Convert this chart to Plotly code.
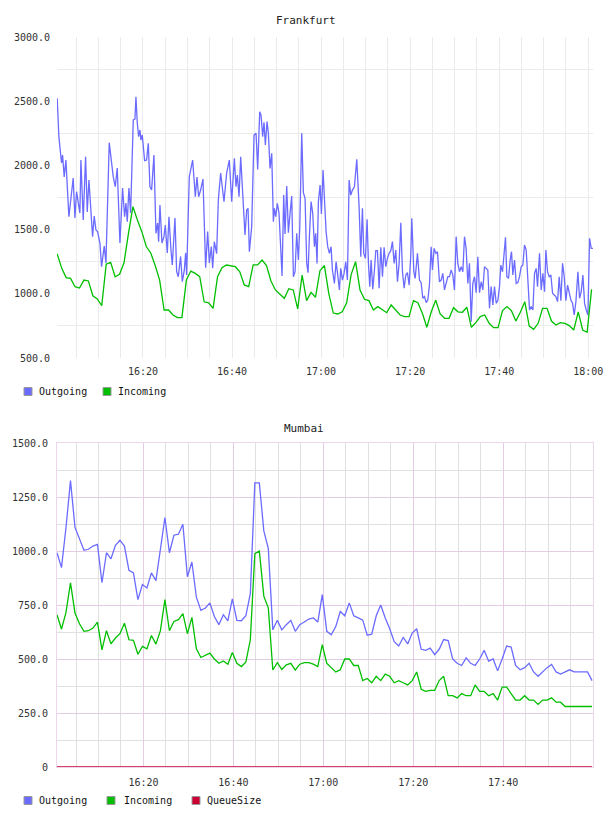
import plotly.graph_objects as go
from datetime import datetime, timedelta

BASE = datetime(2024, 1, 1, 16, 0, 0)

# ---------------- Frankfurt ----------------
fra_out_min = [
    0.75, 1.12, 1.72, 1.95, 2.32, 2.70, 3.37, 4.34, 4.72, 5.09, 5.84, 6.07, 6.59, 7.12, 7.49, 7.87,
    8.69, 9.06, 9.44, 9.81, 10.34, 10.71, 11.31, 11.69, 12.43, 13.33, 13.78, 14.23, 14.83, 15.43,
    15.88, 16.18, 16.48, 16.85, 17.23, 17.83, 18.20, 18.43, 18.73, 19.03, 19.33, 19.55, 19.85,
    20.37, 20.82, 21.20, 21.57, 21.95, 22.47, 22.92, 23.30, 23.52, 23.82, 24.27, 24.72, 25.02,
    25.47, 25.84, 26.29, 26.59, 27.19, 27.57, 27.94, 28.46, 28.84, 29.29, 29.59, 29.81, 30.41,
    31.16, 31.76, 32.13, 32.51, 32.96, 33.48, 34.08, 34.53, 34.91, 35.36, 35.66, 36.03, 36.55,
    36.93, 37.45, 38.20, 38.80, 39.40,
    39.93, 40.53, 40.90, 41.20, 41.58, 41.95, 42.40, 42.92, 43.30, 43.60, 43.90, 44.42, 44.95,
    45.40, 45.77, 46.22, 46.52, 46.89, 47.19, 47.49, 47.87, 48.17, 48.54, 48.92, 49.29, 49.52,
    49.82, 50.19, 50.56, 50.94, 51.24, 51.61, 51.91, 52.29, 52.66, 53.04, 53.41, 53.79, 54.16,
    54.53, 54.91, 55.21, 55.66, 56.03, 56.41, 56.78, 57.08, 57.38, 57.76, 58.13, 58.51, 58.80,
    59.10, 59.40, 59.78, 60.08, 60.45, 60.83, 61.13, 61.50, 61.88, 62.25, 62.55, 63.00, 63.37,
    63.75, 64.12, 64.42, 64.80, 65.17, 65.55, 65.92, 66.30, 66.67, 67.05, 67.49, 68.02, 68.54,
    68.92, 69.29, 69.59, 69.97, 70.34, 70.64, 70.94, 71.24, 71.61, 71.99, 72.29, 72.66, 73.04,
    73.41, 73.79, 74.16, 74.53, 74.91, 75.28, 75.66, 76.03, 76.41, 76.78, 77.16, 77.53, 77.91,
    78.28, 78.66, 79.03, 79.40, 79.78, 80.15, 80.38, 80.83, 81.13,
    81.65, 82.10, 82.47, 82.85, 83.22, 83.60, 83.97, 84.34, 84.72, 85.02, 85.39, 85.77, 86.14,
    86.59, 86.97, 87.34, 87.72, 88.09, 88.46, 88.84, 89.21, 89.59, 89.96, 90.34, 90.71, 91.09,
    91.46, 91.84, 92.21, 92.58, 92.96, 93.33, 93.71, 94.08, 94.46, 94.83, 95.21, 95.58, 95.96,
    96.33, 96.70, 97.08, 97.45, 97.83, 98.20, 98.58, 98.95, 99.33, 99.70, 100.07, 100.37, 100.75,
    101.12, 101.42, 101.72, 102.10, 102.47, 102.77, 103.07, 103.45, 103.82, 104.19, 104.57,
    104.94, 105.32, 105.69, 106.07, 106.44, 106.82, 107.19, 107.57, 107.94, 108.31, 108.61,
    109.06, 109.44, 109.81, 110.19, 110.49, 110.86, 111.24, 111.61, 111.99, 112.36, 112.73,
    113.11, 113.48, 113.86, 114.23, 114.61, 114.98, 115.36, 115.73, 116.10, 116.48, 116.85,
    117.23, 117.68, 118.05, 118.43, 118.80, 119.18, 119.55, 119.93, 120.30, 120.67, 121.05,
]
fra_out = [
    2523, 2224, 2019, 2081, 1910, 2042, 1600, 1902, 1590, 1795, 1629, 2042, 1575, 2068, 1637, 1886,
    1445, 1606, 1497, 1484, 1395, 1211, 1372, 1240, 2177, 1912, 1834, 1980, 1395, 1824,
    1600, 1707, 1562, 1824, 1629, 2354, 2360, 2535, 2330, 2224, 2276, 2198, 2237,
    2037, 2042, 2172, 1834, 1808, 2081, 1471, 1551, 1406, 1692, 1395, 1445, 1536,
    1318, 1600, 1343, 1224, 1590, 1172, 1133, 1291, 1094, 1185, 1318, 1146, 1912,
    2042, 1756, 1910, 1756, 1808, 1894, 1203, 1484, 1240, 1368, 1200, 1406, 1312,
    1730, 1941, 1717, 1941, 2042,
    1718, 2055, 1834, 1925, 1757, 2068, 1731, 1458, 1653, 1666, 1328, 1523, 2237,
    2250, 1969, 2418, 2392, 2224, 2335, 2159, 2341, 2250, 1977, 2094, 1562, 1666,
    1601, 1705, 1627, 1393, 1139, 1769, 1466, 1840, 1476, 1627, 1762, 1133, 1172,
    1471, 1263, 1510, 2250, 1788, 1743, 1237, 1165, 1445, 1718, 1627, 1367, 1471,
    1237, 1718, 1847, 1621, 1964, 1692, 1484, 1367, 1315, 1367, 1185, 1081, 1250,
    1146, 1030, 1198, 1107, 1159, 1250, 1107, 1886, 1769, 1808, 1834, 2047, 1679,
    1289, 1666, 1315, 1276, 1580, 1237, 1056, 1263, 1035, 1185, 1336, 1336, 1043,
    1362, 1133, 1362, 1211, 1276, 1315, 1336, 1406, 1237, 1341, 1094, 1237, 1554,
    1172, 1043, 1146, 1165, 1068, 1302, 1588, 1172, 1120,
    1315, 1107, 1087, 965, 978, 931, 952, 1068, 1367, 1185, 1354, 1315, 1328,
    1094, 1107, 1159, 1030, 1094, 1133, 1133, 1185, 1146, 1030, 1445, 1237, 1172,
    1211, 1172, 1445, 1354, 1081, 1237, 783, 1081, 1133, 1009, 1289, 1009, 1094,
    1030, 1211, 1198, 1185, 887, 1056, 913, 1056, 926, 947, 1056, 1224, 1172,
    1315, 1440, 1133, 1120, 1263, 1328, 1146, 1263, 1081, 1087, 1133,
    1211, 1224, 1380, 1341, 1133, 874, 900, 874, 1159, 1198, 1056,
    1315, 1030, 1159, 1017, 1341, 1172, 1133, 1146, 1004, 991, 978,
    939, 1133, 947, 1237, 1133, 947, 1068, 1004, 952, 926, 835,
    939, 1172, 965, 1017, 1146, 926, 874, 835, 1432, 1354, 1354,
]
fra_in_start_min = 0.75  # one sample per minute from here
fra_in = [
    1310, 1200, 1126, 1120, 1055, 1045, 1107, 1100, 985, 960, 907, 1230, 1245, 1133, 1152, 1242,
    1471, 1679, 1575, 1484, 1368, 1318, 1220, 1107, 874, 874, 835, 814, 814, 1107, 1177, 1159,
    1133, 938, 930, 886, 1133, 1203, 1224,
    1220, 1211, 1172, 1069, 1056, 1225, 1225, 1263, 1220, 1100, 1030, 1000, 965, 1040, 1030, 882,
    1146, 947, 1011, 973, 1180, 1220, 1000, 850, 843, 860, 930, 1150, 1250, 1030, 957, 947,
    874, 900, 874, 853, 913, 870, 835, 822, 822, 947,
    930, 848, 739, 860, 950, 843, 809, 809, 892, 860, 856, 895, 739, 775, 822, 835, 770, 736,
    736, 869, 900, 869, 788, 856, 939, 749, 723, 770, 887, 887, 788, 757, 775, 770, 752, 718,
    860, 718, 700, 1035,
]
fra_yticks = [500, 1000, 1500, 2000, 2500, 3000]
fra_yticktext = ["500.0", "1000.0", "1500.0", "2000.0", "2500.0", "3000.0"]

# ---------------- Mumbai ----------------
mum_start_min = 0.77  # one sample per minute from here
mum_out = [
    992, 923, 1109, 1326, 1109, 1054, 1003, 1008, 1023, 1031, 853, 992, 964, 1026, 1050, 1023,
    910, 899, 775, 845, 829, 899, 863, 1008, 1155, 992, 1073, 1078, 1124, 881, 949, 786,
    725, 736, 760, 697, 659, 705, 677, 778, 679, 677, 700, 803, 1315, 1315, 1093, 1011,
    635, 679, 635, 659, 679, 628, 659, 671, 685, 690, 671, 798, 628, 612,
    650, 720, 700, 760, 700, 690, 680, 610, 615, 700, 750, 690, 640, 580, 560, 600,
    570, 620, 640, 545, 540, 550, 520, 545, 590, 585, 500, 480, 470, 505, 480, 470,
    500, 540, 490, 500, 445, 500, 560, 555, 470, 450, 460, 480, 440, 420, 440, 460,
    475, 440, 430, 440, 450, 440, 440, 440, 440, 400,
]
mum_in = [
    705, 638, 716, 853, 713, 663, 628, 631, 643, 671, 542, 631, 570, 597, 617, 666,
    589, 586, 522, 558, 547, 609, 569, 631, 775, 631, 674, 682, 710, 617, 693, 547,
    507, 516, 527, 500, 480, 491, 476, 530, 480, 465, 485, 589, 988, 1000, 791, 736,
    449, 483, 452, 473, 480, 449, 476, 483, 483, 476, 465, 566, 480, 460,
    440, 450, 500, 500, 470, 470, 400, 410, 390, 420, 400, 430, 420, 390, 400, 390,
    380, 400, 440, 360, 350, 355, 355, 400, 420, 330, 330, 320, 340, 330, 330, 380,
    350, 350, 330, 340, 310, 370, 370, 340, 310, 310, 330, 310, 310, 290, 310, 310,
    320, 300, 300, 280, 280, 280, 280, 280, 280, 280,
]
mum_queue = [
    0, 0, 0, 0, 0, 0, 0, 0, 0, 0, 0, 0, 0, 0, 0, 0, 0, 0, 0, 0,
    0, 0, 0, 0, 0, 0, 0, 0, 0, 0, 0, 0, 0, 0, 0, 0, 0, 0, 0, 0,
    0, 0, 0, 0, 0, 0, 0, 0, 0, 0, 0, 0, 0, 0, 0, 0, 0, 0, 0, 0,
    0, 0, 0, 0, 0, 0, 0, 0, 0, 0, 0, 0, 0, 0, 0, 0, 0, 0, 0, 0,
    0, 0, 0, 0, 0, 0, 0, 0, 0, 0, 0, 0, 0, 0, 0, 0, 0, 0, 0, 0,
    0, 0, 0, 0, 0, 0, 0, 0, 0, 0, 0, 0, 0, 0, 0, 0, 0, 0, 0, 0,
]
mum_yticks = [0, 250, 500, 750, 1000, 1250, 1500]
mum_yticktext = ["0", "250.0", "500.0", "750.0", "1000.0", "1250.0", "1500.0"]

titles = ["Frankfurt", "Mumbai"]
series_names = ["Outgoing", "Incoming", "QueueSize"]
COL_OUT = "#6b6bff"
COL_IN = "#00bf00"
COL_Q = "#cc0033"

# ---------------- build ----------------
W, H = 608, 816


def fx(px):
    return px / W


def fy(py):
    return 1 - py / H


def t(m):
    return BASE + timedelta(minutes=m)


fra_out_x = [t(m) for m in fra_out_min]
fra_in_x = [t(fra_in_start_min + i) for i in range(len(fra_in))]
mum_x = [t(mum_start_min + i) for i in range(len(mum_out))]

fig = go.Figure()
fig.add_trace(go.Scatter(x=fra_out_x, y=fra_out, mode="lines", name=series_names[0],
                         line=dict(color=COL_OUT, width=1.3), xaxis="x", yaxis="y"))
fig.add_trace(go.Scatter(x=fra_in_x, y=fra_in, mode="lines", name=series_names[1],
                         line=dict(color=COL_IN, width=1.3), xaxis="x", yaxis="y"))
fig.add_trace(go.Scatter(x=mum_x, y=mum_out, mode="lines", name=series_names[0],
                         line=dict(color=COL_OUT, width=1.3), xaxis="x2", yaxis="y2"))
fig.add_trace(go.Scatter(x=mum_x, y=mum_in, mode="lines", name=series_names[1],
                         line=dict(color=COL_IN, width=1.3), xaxis="x2", yaxis="y2"))
fig.add_trace(go.Scatter(x=mum_x, y=mum_queue, mode="lines", name=series_names[2],
                         line=dict(color=COL_Q, width=1.5), xaxis="x2", yaxis="y2",
                         cliponaxis=False))

MONO = "DejaVu Sans Mono"
tickfont = dict(family=MONO, size=10, color="#333333")
GRID_TOP = "#ebebeb"
GRID_MAJ = "#e4cce4"
GRID_MIN = "#e0e0e0"
EDGE = "#ecd6ec"

xdom = [fx(57), fx(593)]
common_x = dict(type="date", tickformat="%H:%M", dtick=1200000, tick0=t(0),
                ticks="", zeroline=False, tickfont=tickfont, ticklabelstandoff=6,
                automargin=False, fixedrange=True)

fig.update_layout(
    width=W, height=H, margin=dict(l=0, r=0, t=0, b=0, autoexpand=False),
    paper_bgcolor="white", plot_bgcolor="white", showlegend=False,
    xaxis=dict(domain=xdom, anchor="y", range=[t(0.70), t(121.07)],
               showgrid=True, gridcolor=GRID_TOP, showline=False,
               minor=dict(dtick=300000, tick0=t(0), showgrid=True, gridcolor=GRID_TOP),
               **common_x),
    yaxis=dict(domain=[fy(358), fy(37)], anchor="x", range=[500, 3000],
               tickvals=fra_yticks, ticktext=fra_yticktext, showgrid=False,
               minor=dict(tick0=750, dtick=500, showgrid=True, gridcolor=GRID_TOP),
               ticks="", zeroline=False, showline=False, tickfont=tickfont,
               ticklabelstandoff=6, automargin=False),
    xaxis2=dict(domain=xdom, anchor="y2", range=[t(0.77), t(119.98)],
                showgrid=True, gridcolor=GRID_MAJ, showline=True, mirror=True,
                linecolor=EDGE, linewidth=1,
                minor=dict(dtick=300000, tick0=t(0), showgrid=True, gridcolor=GRID_MIN),
                **common_x),
    yaxis2=dict(domain=[fy(767), fy(443)], anchor="x2", range=[0, 1500],
                tickvals=mum_yticks, ticktext=mum_yticktext, showgrid=True,
                gridcolor=GRID_MAJ,
                minor=dict(tick0=125, dtick=250, showgrid=True, gridcolor=GRID_MIN),
                ticks="", zeroline=False, showline=True, mirror=True, linecolor=EDGE,
                tickfont=tickfont, ticklabelstandoff=6, automargin=False),
)

annotations = [
    dict(text=titles[0], x=fx(306), y=fy(20), xref="paper", yref="paper",
         showarrow=False, xanchor="center", yanchor="middle",
         font=dict(family=MONO, size=11, color="#222222")),
    dict(text=titles[1], x=fx(304), y=fy(428), xref="paper", yref="paper",
         showarrow=False, xanchor="center", yanchor="middle",
         font=dict(family=MONO, size=11, color="#222222")),
]
shapes = []

# manual legends (square swatch + label)
legend_rows = [
    (391.5, [(24, 37, series_names[0], COL_OUT), (103, 116, series_names[1], COL_IN)]),
    (800.5, [(24, 37, series_names[0], COL_OUT), (107, 122, series_names[1], COL_IN),
             (192, 205, series_names[2], COL_Q)]),
]
for yc, items in legend_rows:
    for sx, tx, name, col in items:
        shapes.append(dict(type="rect", xref="paper", yref="paper",
                           x0=fx(sx), x1=fx(sx + 8), y0=fy(yc + 4), y1=fy(yc - 4),
                           fillcolor=col, line=dict(color="#999999", width=1)))
        annotations.append(dict(text=name, x=fx(tx), y=fy(yc), xref="paper", yref="paper",
                                showarrow=False, xanchor="left", yanchor="middle",
                                font=dict(family=MONO, size=10, color="#111111")))

fig.update_layout(annotations=annotations, shapes=shapes)
fig.write_html("out.html")
